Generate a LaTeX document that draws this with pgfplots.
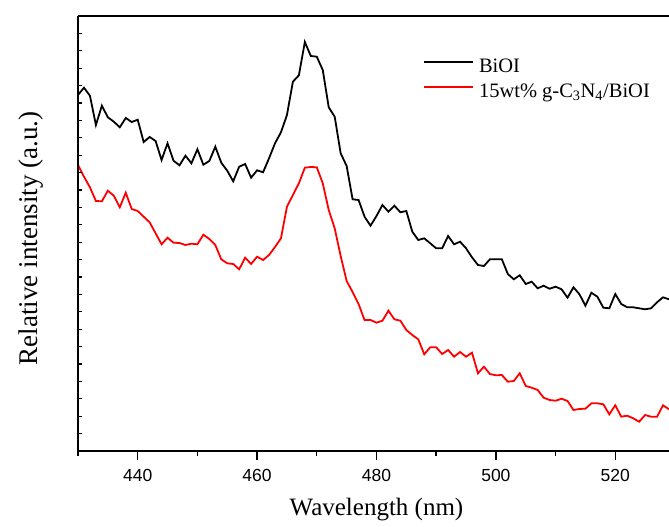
\documentclass[border=0pt]{standalone}
\usepackage{pgfplots}
\pgfplotsset{compat=1.18}
\usepackage{fontspec}
\setmainfont{Liberation Serif}
\newfontfamily\arialfont{Liberation Sans}
\begin{document}
\begin{tikzpicture}
\useasboundingbox (-78pt,-76pt) rectangle (591pt,451pt);
\begin{axis}[
  at={(0,0)}, anchor=south west,
  scale only axis, width=591pt, height=435pt,
  xmin=430, xmax=529, ymin=0, ymax=435,
  axis x line=box, axis y line=left,
  axis line style={-, line width=1.6pt},
  xtick={440,460,...,520},
  minor xtick={430,450,...,530},
  xtick pos=bottom,
  tick align=outside,
  major tick length=9pt, minor tick length=5pt,
  every tick/.style={line width=1.4pt, black},
  ytick=\empty,
  /pgf/number format/assume math mode=true,
  xticklabel style={font=\arialfont\fontsize{17.5}{20}\selectfont, yshift=-6pt},
  xlabel={Wavelength (nm)},
  ylabel={Relative intensity (a.u.)},
  xlabel style={font=\fontsize{25}{30}\selectfont, at={(axis description cs:0.505,0)}, anchor=base, yshift=-64pt},
  ylabel style={font=\fontsize{27}{32}\selectfont, at={(axis description cs:-0.0677,0.4885)}, anchor=base},
  clip=true,
  legend style={draw=none, fill=none, at={(rel axis cs:0.5838,0.9034)}, anchor=north west,
    font=\fontsize{20.5}{24}\selectfont, inner sep=0pt, column sep=5pt, row sep=7pt,
    nodes={inner sep=0pt, text height=14pt, text depth=4pt}},
  legend cell align=left,
  legend image code/.code={\draw[#1] (0pt,5pt) -- (49pt,5pt);},
]
\addplot[black, line width=1.8pt] coordinates {
(430,356) (431,363.3) (432,355.3) (433,326) (434,345.3) (435,333.7) (436,329.3) (437,323.7) (438,333) (439,329)
(440,331.3) (441,309) (442,314) (443,310) (444,291) (445,307.7) (446,290.3) (447,285.7) (448,295.3) (449,287.7)
(450,301.7) (451,286.3) (452,290) (453,304.3) (454,288.3) (455,280.3) (456,269.7) (457,284.3) (458,287) (459,273.3)
(460,280.7) (461,278.7) (462,292.7) (463,307.7) (464,318.7) (465,336) (466,369.3) (467,375.7) (468,409) (469,395)
(470,394.3) (471,381) (472,343.7) (473,334.3) (474,297.7) (475,285) (476,251.7) (477,251) (478,234.3) (479,225.3)
(480,235) (481,246) (482,239.3) (483,245.3) (484,238.7) (485,240) (486,219.3) (487,211) (488,212.7) (489,207.7)
(490,202.7) (491,202.7) (492,215) (493,206.7) (494,209.3) (495,202.7) (496,193.7) (497,186) (498,185) (499,191.7)
(500,191.7) (501,191.7) (502,177) (503,171.7) (504,175.7) (505,167) (506,169.3) (507,162.7) (508,165.3) (509,162.3)
(510,164.3) (511,161.7) (512,153.3) (513,163.7) (514,156.7) (515,145.3) (516,158.3) (517,154.3) (518,143.3) (519,142.7)
(520,157) (521,147) (522,143.7) (523,143.7) (524,142.7) (525,141.7) (526,142.7) (527,148.7) (528,153.7) (529,151.7)
};
\addlegendentry{BiOI}
\addplot[red, line width=1.8pt] coordinates {
(430,286) (431,274.3) (432,263.7) (433,250) (434,249.7) (435,260.3) (436,255.3) (437,243.7) (438,258.3) (439,242)
(440,240) (441,234.3) (442,228.7) (443,217.7) (444,206.7) (445,213.3) (446,208.3) (447,208) (448,206) (449,207.3)
(450,206.7) (451,216.3) (452,212) (453,206) (454,191.7) (455,187.7) (456,187) (457,181.7) (458,193.3) (459,187)
(460,194.3) (461,191) (462,196) (463,204) (464,212.7) (465,244.3) (466,256) (467,267.7) (468,283.3) (469,284)
(470,283.7) (471,267.7) (472,241) (473,222.7) (474,195) (475,170) (476,159) (477,147) (478,131) (479,131)
(480,128.3) (481,130.3) (482,140.3) (483,131.7) (484,130.3) (485,121) (486,116) (487,111.7) (488,96.7) (489,103.7)
(490,103.7) (491,97) (492,101) (493,94.3) (494,99) (495,94.3) (496,98.3) (497,77.7) (498,84.3) (499,77)
(500,75.7) (501,76) (502,69.3) (503,70) (504,77.7) (505,65) (506,63.3) (507,61) (508,53.3) (509,51)
(510,50.3) (511,52.3) (512,50) (513,41) (514,42) (515,42.3) (516,47.7) (517,47.7) (518,46.7) (519,36.7)
(520,45.7) (521,34.3) (522,35.3) (523,32.7) (524,29.3) (525,36) (526,34.3) (527,34.3) (528,45.7) (529,41.7)
};
\addlegendentry{15wt\% g-C\textsubscript{3}N\textsubscript{4}/BiOI}
\end{axis}
\begin{axis}[
  at={(0,0)}, anchor=south west,
  scale only axis, width=591pt, height=435pt,
  xmin=430, xmax=529, ymin=0, ymax=435,
  hide x axis,
  axis y line=left,
  axis line style={-, line width=1.6pt},
  ytick={0,17.4,...,436}, yticklabels={},
  tick align=inside,
  major tick length=3.5pt,
  every tick/.style={line width=1.2pt, black},
]
\end{axis}
\end{tikzpicture}
\end{document}
